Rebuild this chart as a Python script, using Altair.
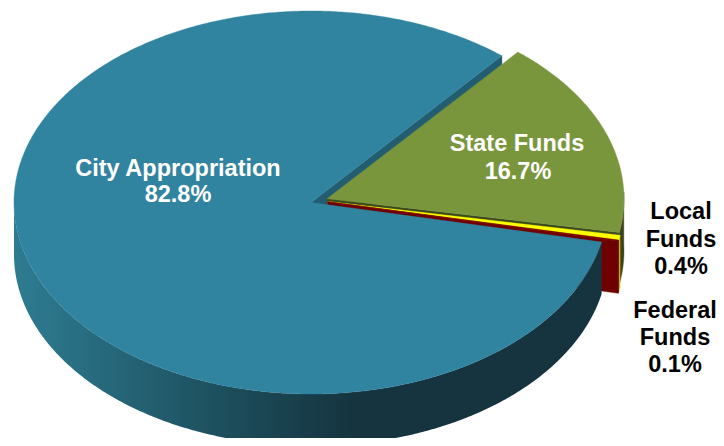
import math
import altair as alt
import pandas as pd

# --- chart data ---
categories = ["City Appropriation", "State Funds", "Local Funds", "Federal Funds"]
shares = [82.8, 16.7, 0.4, 0.1]
top_colors = ["#31849F", "#7A963C", "#FFFF00", "#7A0000"]
wall_colors = ["#15343F", "#3C4219", "#C8C800", "#6E0000"]
cut_colors = ["#235D72", "#3A4A1C", "#B0A000", "#6E0000"]

# --- pie geometry ---
CX, CY = 311.0, 202.5
RX, RY = 297.0, 191.5
DEPTH = 52.0
EXPLODE = 17.0
SMALL_LIFT = 3.0     # the two thin slices sit slightly higher than a pure radial pull
STATE_START = 50.0   # degrees, the edge between City and State, going clockwise
FONT = "Liberation Sans"


def sweep():
    out = []
    a = STATE_START
    for name, s in zip(categories[1:], shares[1:]):
        out.append((name, a, a - s * 3.6))
        a -= s * 3.6
    out.insert(0, (categories[0], a, a - shares[0] * 3.6))
    return out


def centre(a0, a1, lift=0.0):
    m = math.radians((a0 + a1) / 2)
    return CX + EXPLODE * math.cos(m), CY - EXPLODE * math.sin(m) * RY / RX - lift


def rim(c, a):
    t = math.radians(a)
    return c[0] + RX * math.cos(t), c[1] - RY * math.sin(t)


def arc(c, a0, a1, dy=0.0):
    n = max(2, int(abs(a1 - a0) * 2) + 1)
    pts = []
    for i in range(n):
        x, y = rim(c, a0 + (a1 - a0) * i / (n - 1))
        pts.append((x, y + dy))
    return pts


X = alt.Scale(domain=[8, 716], nice=False, zero=False)
Y = alt.Scale(domain=[438, 8], nice=False, zero=False)


def poly(pts, fill, stroke=None):
    df = pd.DataFrame({"x": [p[0] for p in pts], "y": [p[1] for p in pts], "i": range(len(pts))})
    kw = dict(filled=True, fill=fill, interpolate="linear-closed")
    if stroke is not False:
        kw.update(stroke=fill, strokeWidth=0.4)
    return alt.Chart(df).mark_line(**kw).encode(
        x=alt.X("x:Q", scale=X, axis=None),
        y=alt.Y("y:Q", scale=Y, axis=None),
        order="i:Q",
    )


slices = sweep()
layers = []

# City slice: hidden cut face first, wall and top come last
city_name, city_a0, city_a1 = slices[0]
cc = (CX, CY)
edge_top = rim(cc, STATE_START)
layers.append(poly([cc, edge_top, (edge_top[0], edge_top[1] + DEPTH), (cc[0], cc[1] + DEPTH)], cut_colors[0]))

# exploded slices, painted back to front
for k in (1, 2, 3):
    _, a0, a1 = slices[k]
    c = centre(a0, a1, 0.0 if k == 1 else SMALL_LIFT)
    vis0 = min(a0, 2.0)
    layers.append(poly(arc(c, vis0, a1) + arc(c, a1, vis0, DEPTH), wall_colors[k]))
    end = rim(c, a1)
    layers.append(poly([c, end, (end[0], end[1] + DEPTH), (c[0], c[1] + DEPTH)], cut_colors[k]))
    layers.append(poly([c] + arc(c, a0, a1), top_colors[k]))

# City slice wall and top
wall_grad = alt.Gradient(
    gradient="linear", x1=0, x2=1, y1=0, y2=0,
    stops=[
        alt.GradientStop(offset=0.0, color="#2E7C92"),
        alt.GradientStop(offset=0.15, color="#27697C"),
        alt.GradientStop(offset=0.32, color="#1E5362"),
        alt.GradientStop(offset=0.48, color="#193F4C"),
        alt.GradientStop(offset=0.58, color="#15343F"),
        alt.GradientStop(offset=1.0, color="#15343F"),
    ],
)
layers.append(poly(arc(cc, -180.0, city_a0) + arc(cc, city_a0, -180.0, DEPTH), wall_grad, stroke=False))
layers.append(poly([cc] + arc(cc, city_a0, city_a1), top_colors[0]))

# labels
white_labels = ["City Appropriation", "82.8%", "State Funds", "16.7%"]
white_x = [178, 178, 517, 518]
white_y = [169, 195, 144, 172]
black_labels = ["Local", "Funds", "0.4%", "Federal", "Funds", "0.1%"]
black_x = [681, 681, 681, 675, 675, 675]
black_y = [212, 240, 267, 311, 338, 365]

for labels, xs, ys, col in ((white_labels, white_x, white_y, "#FFFFFF"), (black_labels, black_x, black_y, "#000000")):
    df = pd.DataFrame({"label": labels, "x": xs, "y": ys})
    layers.append(
        alt.Chart(df)
        .mark_text(font=FONT, fontWeight="bold", fontSize=23.5, color=col, align="center", baseline="middle")
        .encode(x=alt.X("x:Q", scale=X, axis=None), y=alt.Y("y:Q", scale=Y, axis=None), text="label:N")
    )

chart = (
    alt.layer(*layers)
    .properties(width=708, height=430, padding=0, background="white", autosize=alt.AutoSizeParams(type="none"))
    .configure_view(stroke=None)
)
chart.save("out.html", embed_options={"renderer": "svg", "actions": False})
